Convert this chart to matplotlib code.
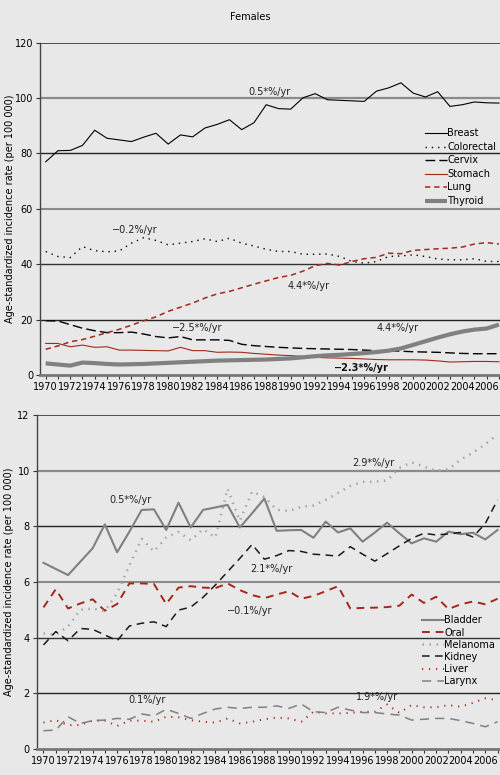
import matplotlib
matplotlib.use("Agg")
import matplotlib.pyplot as plt
import numpy as np

plt.rcParams['font.family'] = ['Liberation Sans Narrow', 'DejaVu Sans']
plt.rcParams['font.size'] = 7

years = np.arange(1970, 2008)

# Females, top panel (per 100 000)
breast = [77.0, 81.0, 81.1, 82.9, 88.4, 85.5, 84.9, 84.3, 85.9, 87.3,
          83.4, 86.7, 86.0, 89.2, 90.5, 92.2, 88.6, 91.1, 97.6, 96.2,
          96.0, 100.1, 101.6, 99.4, 99.2, 99.0, 98.8, 102.5, 103.7, 105.5,
          101.8, 100.4, 102.3, 97.0, 97.6, 98.6, 98.3, 98.2]
colorectal = [44.6, 42.8, 42.4, 46.4, 44.9, 44.5, 44.8, 47.6, 49.6, 48.6,
              47.0, 47.6, 48.2, 49.2, 48.2, 49.4, 47.6, 46.6, 45.4, 44.6,
              44.6, 43.6, 43.6, 43.7, 42.8, 41.0, 40.4, 41.0, 42.8, 43.0,
              43.4, 42.8, 41.9, 41.6, 41.6, 42.0, 41.0, 41.0]
cervix = [19.6, 19.5, 18.2, 16.9, 16.0, 15.3, 15.3, 15.5, 14.8, 13.9,
          13.4, 13.9, 12.7, 12.7, 12.7, 12.5, 11.1, 10.6, 10.3, 10.0,
          9.8, 9.6, 9.5, 9.4, 9.3, 9.2, 9.0, 8.8, 8.8, 8.6,
          8.4, 8.3, 8.2, 8.0, 7.8, 7.7, 7.7, 7.7]
stomach = [11.4, 11.4, 10.2, 10.8, 10.0, 10.2, 9.0, 9.0, 8.9, 8.8,
           8.7, 10.0, 8.8, 8.8, 8.2, 8.3, 8.2, 7.8, 7.5, 7.2,
           7.0, 6.7, 6.4, 6.2, 6.1, 6.0, 5.8, 5.6, 5.5, 5.5,
           5.5, 5.4, 5.1, 4.7, 4.8, 4.9, 4.9, 4.8]
lung = [9.3, 10.5, 12.0, 12.8, 14.0, 15.3, 16.5, 18.0, 19.6, 21.0,
        23.0, 24.5, 26.0, 27.8, 29.3, 30.2, 31.5, 32.8, 34.0, 35.2,
        36.0, 37.5, 39.5, 40.3, 39.7, 41.0, 42.0, 42.5, 44.0, 43.8,
        45.0, 45.3, 45.6, 45.8, 46.2, 47.3, 47.8, 47.3]
thyroid = [4.2, 3.8, 3.4, 4.5, 4.3, 4.0, 3.8, 3.9, 4.0, 4.2,
           4.4, 4.6, 4.8, 5.0, 5.2, 5.3, 5.4, 5.5, 5.6, 5.8,
           6.0, 6.4, 6.8, 7.1, 7.3, 7.6, 7.9, 8.3, 8.8, 9.6,
           10.9, 12.2, 13.5, 14.7, 15.7, 16.4, 16.8, 18.2]

# bottom panel
bladder = [6.69, 6.47, 6.25, 6.73, 7.21, 8.07, 7.07, 7.81, 8.59, 8.61,
           7.87, 8.85, 7.96, 8.59, 8.68, 8.77, 7.96, 8.47, 9.0, 7.84,
           7.86, 7.87, 7.59, 8.17, 7.78, 7.93, 7.45, 7.78, 8.13, 7.75,
           7.39, 7.57, 7.45, 7.81, 7.72, 7.77, 7.53, 7.87]
oral = [5.09, 5.74, 5.05, 5.23, 5.38, 4.97, 5.21, 5.95, 5.95, 5.93,
        5.21, 5.80, 5.85, 5.80, 5.78, 5.95, 5.71, 5.53, 5.42, 5.55,
        5.67, 5.40, 5.50, 5.67, 5.85, 5.05, 5.07, 5.08, 5.10, 5.15,
        5.55, 5.25, 5.47, 5.03, 5.20, 5.30, 5.20, 5.40]
melanoma = [4.15, 4.10, 4.40, 5.00, 5.05, 4.95, 5.60, 6.60, 7.55, 7.10,
            7.60, 7.80, 7.50, 7.90, 7.60, 9.35, 8.20, 9.25, 9.05, 8.60,
            8.55, 8.70, 8.75, 8.95, 9.20, 9.45, 9.60, 9.60, 9.65, 10.10,
            10.30, 10.15, 10.00, 10.05, 10.40, 10.65, 10.95, 11.30]
kidney = [3.74, 4.22, 3.89, 4.33, 4.30, 4.10, 3.89, 4.42, 4.52, 4.57,
          4.40, 4.99, 5.10, 5.45, 5.89, 6.37, 6.85, 7.35, 6.82, 6.95,
          7.13, 7.10, 7.00, 6.97, 6.93, 7.27, 7.00, 6.75, 7.02, 7.30,
          7.57, 7.75, 7.69, 7.73, 7.78, 7.62, 8.10, 8.95]
liver = [0.95, 1.04, 0.86, 0.86, 1.02, 1.02, 0.83, 1.02, 1.02, 0.98,
         1.16, 1.14, 1.04, 0.98, 0.95, 1.10, 0.92, 0.98, 1.07, 1.13,
         1.10, 0.98, 1.34, 1.28, 1.28, 1.30, 1.34, 1.34, 1.60, 1.30,
         1.58, 1.50, 1.50, 1.58, 1.52, 1.66, 1.82, 1.76]
larynx = [0.66, 0.68, 1.16, 0.92, 1.02, 1.04, 1.10, 1.07, 1.26, 1.19,
          1.43, 1.28, 1.10, 1.28, 1.44, 1.50, 1.46, 1.50, 1.50, 1.55,
          1.46, 1.62, 1.34, 1.31, 1.50, 1.40, 1.31, 1.31, 1.26, 1.22,
          1.04, 1.07, 1.10, 1.10, 1.02, 0.92, 0.80, 0.98]

BG = '#e8e8e8'
RED = '#a3281a'
GREY = '#808080'
YLABEL = 'Age-standardized incidence rate (per 100 000)'

fig = plt.figure(figsize=(5, 7.75), dpi=100, facecolor=BG)


def style_axes(ax, ymax, ystep, grid_colors):
    ax.set_facecolor(BG)
    ax.set_ylim(0, ymax)
    ax.set_yticks(np.arange(0, ymax + ystep / 2, ystep))
    ax.set_xticks(np.arange(1970, 2007, 2))
    ax.set_xticks(np.arange(1970, 2008, 1), minor=True)
    ax.tick_params(axis='x', which='both', length=3, width=0.8, color='#333333',
                   pad=2, labelsize=7)
    ax.tick_params(axis='y', length=3, width=0.8, color='#333333', pad=2, labelsize=7)
    for s in ['top', 'right']:
        ax.spines[s].set_visible(False)
    ax.spines['left'].set_color('#444444')
    ax.spines['left'].set_linewidth(1.0)
    ax.spines['bottom'].set_color('#777777')
    ax.spines['bottom'].set_linewidth(2.0)
    ticks = np.arange(ystep, ymax + ystep / 2, ystep)
    for t, (c, lw) in zip(ticks, grid_colors):
        ax.axhline(t, color=c, lw=lw, zorder=0.5)
    ax.set_ylabel(YLABEL, fontsize=7)


# one style per grid line, bottom to top
grid_cols = [('#222222', 1.0), ('#333333', 1.0), ('#8a8a8a', 1.5),
             ('#222222', 1.0), ('#8a8a8a', 1.6), ('#333333', 1.2)]

# ---- top panel ----
ax1 = fig.add_axes([0.08, 0.5161, 0.92, 0.4288])
ax1.set_xlim(1969.535, 2007.086)
style_axes(ax1, 120, 20, grid_cols)
ax1.yaxis.set_label_coords(-0.055, 0.5)

ax1.plot(years, breast, color='black', lw=0.8, label='Breast')
ax1.plot(years, colorectal, color='black', lw=1.0, ls=(0, (1, 3.5)), label='Colorectal')
ax1.plot(years, cervix, color='black', lw=1.0, ls=(0, (7, 3)), label='Cervix')
ax1.plot(years, stomach, color=RED, lw=0.8, label='Stomach')
ax1.plot(years, lung, color=RED, lw=1.1, ls=(0, (3.5, 2.5)), label='Lung')
ax1.plot(years, thyroid, color=GREY, lw=3.0, solid_capstyle='butt', label='Thyroid')

ax1.legend(loc='upper left', bbox_to_anchor=(0.838, 0.742), frameon=False,
           fontsize=7, handlelength=2.2, handletextpad=0.05, labelspacing=0.36,
           borderpad=0, borderaxespad=0)

ax1.text(1988.3, 102.1, '0.5*%/yr', ha='center', va='center', fontsize=7, color='#222222')
ax1.text(1977.3, 52.2, '\u22120.2%/yr', ha='center', va='center', fontsize=7, color='#222222')
ax1.text(1991.5, 32.3, '4.4*%/yr', ha='center', va='center', fontsize=7, color='#222222')
ax1.text(1982.35, 16.8, '\u22122.5*%/yr', ha='center', va='center', fontsize=7, color='#222222')
ax1.text(1998.7, 16.8, '4.4*%/yr', ha='center', va='center', fontsize=7, color='#222222')
ax1.text(1995.75, 2.4, '\u22122.3*%/yr', ha='center', va='center', fontsize=7,
         fontweight='bold', color='#111111')

fig.text(0.5, 1 - 17 / 775, 'Females', ha='center', va='center', fontsize=7)

# ---- bottom panel ----
ax2 = fig.add_axes([0.0734, 0.0335, 0.9266, 0.431])
ax2.set_xlim(1969.446, 2007.2)
style_axes(ax2, 12, 2, grid_cols)
ax2.yaxis.set_label_coords(-0.048, 0.5)

ax2.plot(years, bladder, color=GREY, lw=1.5, label='Bladder')
ax2.plot(years, oral, color=RED, lw=1.4, ls=(0, (4, 3)), label='Oral')
ax2.plot(years, melanoma, color='#a6a6a6', lw=1.8, ls=(0, (0.6, 2.2)), label='Melanoma')
ax2.plot(years, kidney, color='#1a1a1a', lw=1.1, ls=(0, (5, 3.5)), label='Kidney')
ax2.plot(years, liver, color=RED, lw=1.4, ls=(0, (0.6, 3)), label='Liver')
ax2.plot(years, larynx, color=GREY, lw=1.1, ls=(0, (6, 4)), label='Larynx')

ax2.legend(loc='upper left', bbox_to_anchor=(0.832, 0.4), frameon=False,
           fontsize=7, handlelength=2.2, handletextpad=0.05, labelspacing=0.22,
           borderpad=0, borderaxespad=0)

ax2.text(1977.1, 8.95, '0.5*%/yr', ha='center', va='center', fontsize=7, color='#222222')
ax2.text(1996.85, 10.28, '2.9*%/yr', ha='center', va='center', fontsize=7, color='#222222')
ax2.text(1988.55, 6.47, '2.1*%/yr', ha='center', va='center', fontsize=7, color='#222222')
ax2.text(1986.8, 4.96, '\u22120.1%/yr', ha='center', va='center', fontsize=7, color='#222222')
ax2.text(1978.45, 1.76, '0.1%/yr', ha='center', va='center', fontsize=7, color='#222222')
ax2.text(1997.2, 1.87, '1.9*%/yr', ha='center', va='center', fontsize=7, color='#222222')

fig.savefig('out.png', dpi=100, facecolor=BG)
